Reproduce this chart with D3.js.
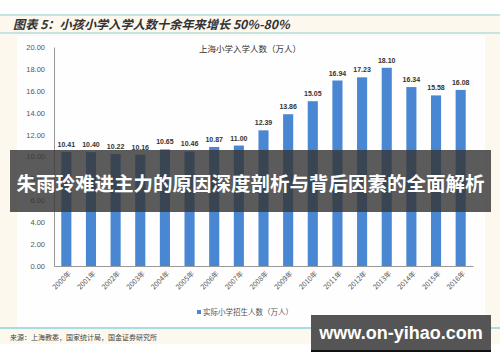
<!DOCTYPE html>
<html><head><meta charset="utf-8">
<script src="https://cdn.jsdelivr.net/npm/d3@7"></script>
<style>body{margin:0;background:#fff}svg{display:block}</style>
</head><body><svg id="c" width="500" height="362"></svg>
<script>
const years = ["2000年","2001年","2002年","2003年","2004年","2005年","2006年","2007年","2008年","2009年","2010年","2011年","2012年","2013年","2014年","2015年","2016年"];
const values = [10.41,10.40,10.22,10.16,10.65,10.46,10.87,11.00,12.39,13.86,15.05,16.94,17.23,18.10,16.34,15.58,16.08];
const yTicks = [0,2,4,6,8,10,12,14,16,18,20];
const headerTitle = "图表 5：小孩小学入学人数十余年来增长 50%-80%";
const chartTitle = "上海小学入学人数（万人）";
const legendLabel = "实际小学招生人数（万人）";
const sourceText = "来源：上海教委，国家统计局，国金证券研究所";
const overlayText = "朱雨玲难进主力的原因深度剖析与背后因素的全面解析";
const watermark = "www.on-yihao.com";

const svg = d3.select("#c");
const cjk = "'Noto Sans CJK SC', sans-serif";
// backgrounds
svg.append("rect").attr("x",0).attr("y",0).attr("width",500).attr("height",362).attr("fill","#fff");
svg.append("rect").attr("x",0).attr("y",14).attr("width",500).attr("height",330).attr("fill","#fdf8ee");
svg.append("rect").attr("x",17).attr("y",36).attr("width",468).attr("height",291).attr("fill","#fefefe");
// header lines
svg.append("line").attr("x1",0).attr("x2",500).attr("y1",15).attr("y2",15).attr("stroke","#8fcfd6").attr("stroke-width",1.2);
svg.append("line").attr("x1",0).attr("x2",500).attr("y1",33).attr("y2",33).attr("stroke","#8fcfd6").attr("stroke-width",1.2);
svg.append("line").attr("x1",0).attr("x2",500).attr("y1",328).attr("y2",328).attr("stroke","#a8dde2").attr("stroke-width",2);
svg.append("text").attr("x",13).attr("y",28.5).attr("font-family",cjk).attr("font-size",12.2).attr("font-weight","bold")
  .attr("font-style","italic").attr("fill","#333").text(headerTitle);
svg.append("text").attr("x",10).attr("y",340).attr("font-family",cjk).attr("font-size",7).attr("fill","#444").text(sourceText);

const x = d3.scaleBand().domain(years).range([54,473]).paddingInner(0.59).paddingOuter(0.295);
const y = d3.scaleLinear().domain([0,20]).range([266,47]);

// y axis
const ya = svg.append("g").attr("transform","translate(54,0)")
  .call(d3.axisLeft(y).tickValues(yTicks).tickFormat(d3.format(".2f")).tickSize(0).tickPadding(9));
ya.select(".domain").attr("stroke","#999");
ya.selectAll("text").attr("font-family","'Liberation Sans', Arial, sans-serif").attr("font-size",7.5).attr("fill","#555");
// x axis
const xa = svg.append("g").attr("transform","translate(0,266)")
  .call(d3.axisBottom(x).tickSize(0).tickSizeOuter(0));
xa.select(".domain").attr("stroke","#999");
xa.selectAll("text").attr("font-family",cjk).attr("font-size",7).attr("fill","#555")
  .attr("text-anchor","end").attr("dy",0).attr("dx",0)
  .attr("transform","translate(3,6) rotate(-45)");

// bars
svg.append("g").selectAll("rect").data(values).join("rect")
  .attr("x",(d,i)=>x(years[i])).attr("width",x.bandwidth())
  .attr("y",d=>y(d)).attr("height",d=>266-y(d)).attr("fill","#4a87d3");
svg.append("g").selectAll("text").data(values).join("text")
  .attr("x",(d,i)=>x(years[i])+x.bandwidth()/2).attr("y",d=>y(d)-5)
  .attr("text-anchor","middle").attr("font-family","'Liberation Sans', Arial, sans-serif")
  .attr("font-size",7).attr("font-weight","bold").attr("fill","#333").text(d=>d3.format(".2f")(d));

svg.append("text").attr("x",250).attr("y",52).attr("text-anchor","middle").attr("font-family",cjk)
  .attr("font-size",8.5).attr("fill","#333").text(chartTitle);
// legend
svg.append("rect").attr("x",197).attr("y",310).attr("width",4).attr("height",4).attr("fill","#4a87d3");
svg.append("text").attr("x",203).attr("y",315).attr("font-family",cjk).attr("font-size",7.5).attr("fill","#555").text(legendLabel);

// overlay band
svg.append("rect").attr("x",10).attr("y",150).attr("width",481).attr("height",62).attr("fill","rgba(55,55,55,0.82)");
svg.append("text").attr("x",250.5).attr("y",191).attr("text-anchor","middle").attr("font-family",cjk)
  .attr("font-size",19.5).attr("font-weight","bold").attr("fill","#fff").text(overlayText);
// watermark
svg.append("rect").attr("x",311).attr("y",315).attr("width",180).attr("height",37).attr("fill","#555");
svg.append("rect").attr("x",311).attr("y",350).attr("width",180).attr("height",2).attr("fill","#111");
svg.append("text").attr("x",401).attr("y",339).attr("text-anchor","middle").attr("font-family","'Liberation Sans', Arial, sans-serif")
  .attr("font-size",18).attr("font-weight","bold").attr("fill","#fff").text(watermark);
</script></body></html>
